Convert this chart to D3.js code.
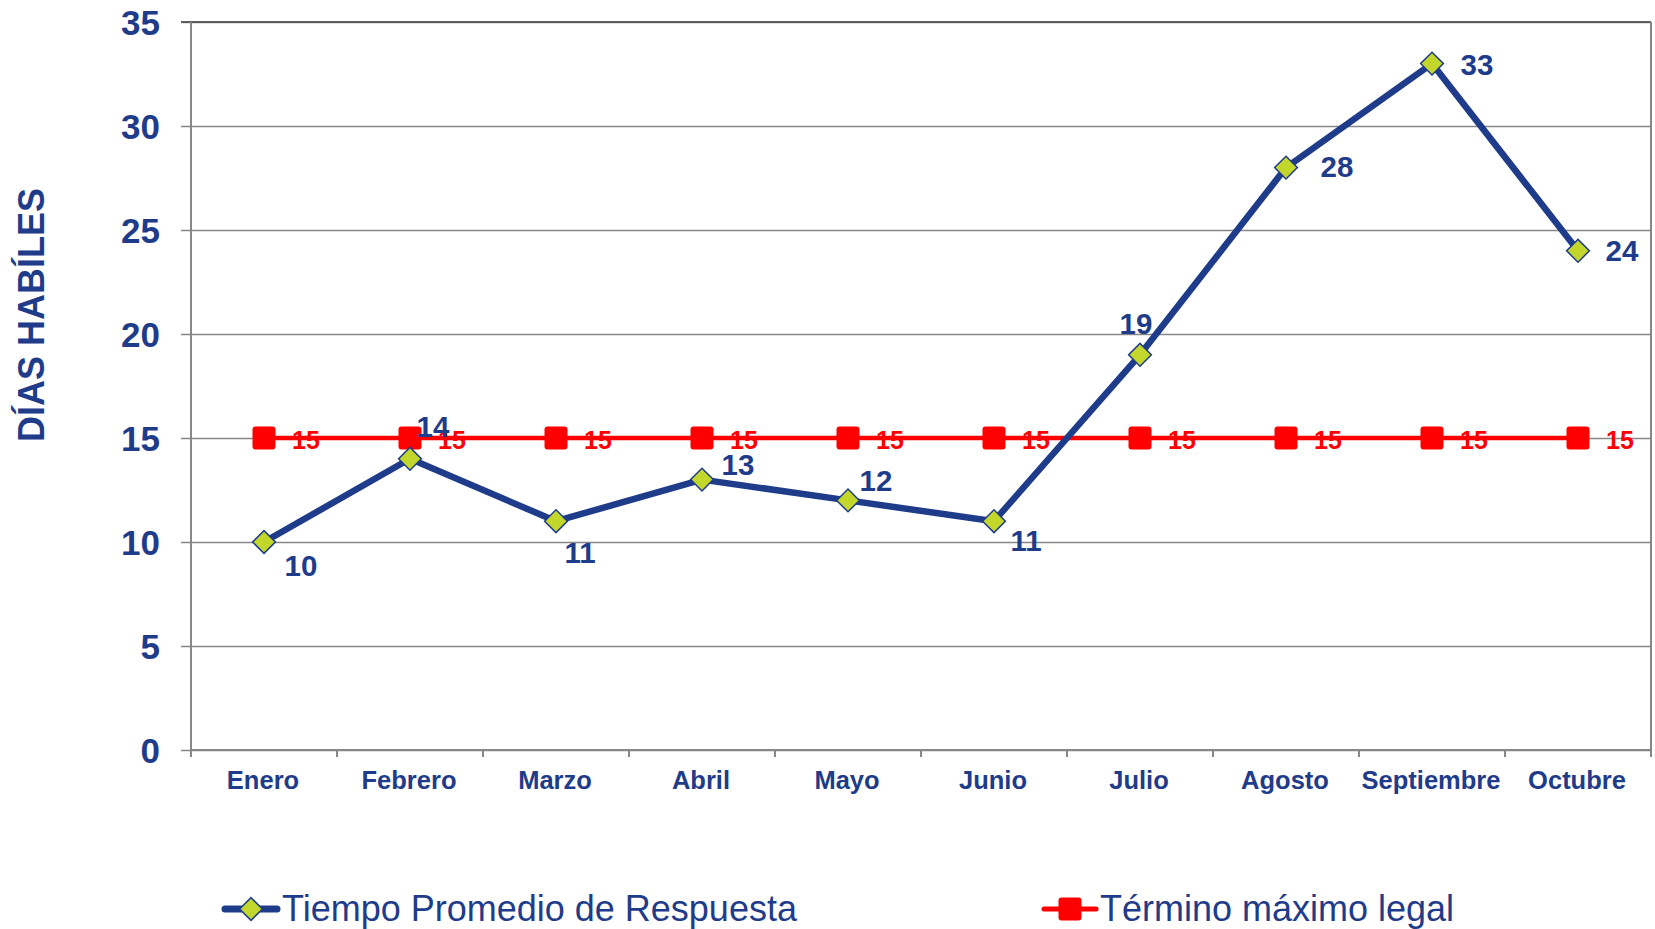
<!DOCTYPE html>
<html>
<head>
<meta charset="utf-8">
<script src="https://cdn.jsdelivr.net/npm/d3@7"></script>
<style>
    body { margin: 0; background: #fff; }
    svg { display: block; font-family: Arial, "Liberation Sans", sans-serif; }
</style>
</head>
<body>
<div id="chart"></div>
<script>
// Chart data
const months = ['Enero', 'Febrero', 'Marzo', 'Abril', 'Mayo', 'Junio', 'Julio', 'Agosto', 'Septiembre', 'Octubre'];
const tiempoPromedio = [10, 14, 11, 13, 12, 11, 19, 28, 33, 24];
const terminoLegal = [15, 15, 15, 15, 15, 15, 15, 15, 15, 15];
const yTicks = [0, 5, 10, 15, 20, 25, 30, 35];
const seriesNames = ['Tiempo Promedio de Respuesta', 'Término máximo legal'];
const yTitle = 'DÍAS HABÍLES';

// Label placement (offset of label centre from its point, px)
const blueLabelOffsets = [[37, 23], [23, -32], [24, 31], [36, -15], [28, -20], [32, 19], [-4, -31], [51, -1], [45, 1], [44, 0]];

const BLUE = '#1f3c8a';
const LIME = '#c3d62b';
const RED = '#ff0000';
const GRID = '#878787';

const width = 1655, height = 929;
const plot = {left: 191, right: 1651, top: 22, bottom: 750};

const svg = d3.select('#chart').append('svg')
    .attr('width', width)
    .attr('height', height);

const x = d3.scaleBand()
    .domain(months)
    .range([plot.left, plot.right])
    .padding(0);
const cx = m => x(m) + x.bandwidth() / 2;

const y = d3.scaleLinear()
    .domain([0, 35])
    .range([plot.bottom, plot.top]);

// Gridlines + left ticks
const yAxis = d3.axisLeft(y)
    .tickValues(yTicks)
    .tickSize(-(plot.right - plot.left))
    .tickFormat('');
svg.append('g')
    .attr('transform', `translate(${plot.left},0)`)
    .call(yAxis)
    .call(g => g.select('.domain').remove())
    .call(g => g.selectAll('.tick line')
        .attr('x1', -10)
        .attr('stroke', GRID)
        .attr('stroke-width', 1.6));

// Top border slightly darker
svg.append('line')
    .attr('x1', plot.left - 10).attr('x2', plot.right)
    .attr('y1', y(35)).attr('y2', y(35))
    .attr('stroke', '#5e5e5e')
    .attr('stroke-width', 2);

// Left and right frame lines
[plot.left, plot.right].forEach(px => {
    svg.append('line')
        .attr('x1', px).attr('x2', px)
        .attr('y1', plot.top).attr('y2', plot.bottom)
        .attr('stroke', GRID)
        .attr('stroke-width', 2);
});

// Y tick labels
svg.append('g')
    .selectAll('text')
    .data(yTicks)
    .enter().append('text')
    .attr('x', 160)
    .attr('y', d => y(d))
    .attr('dy', '0.36em')
    .attr('text-anchor', 'end')
    .style('font-size', '35px')
    .style('font-weight', 'bold')
    .style('fill', BLUE)
    .text(d => d);

// X axis with ticks at category boundaries
const xBottom = svg.append('g')
    .attr('transform', `translate(0,${plot.bottom})`);
xBottom.append('line')
    .attr('x1', plot.left).attr('x2', plot.right)
    .attr('stroke', GRID)
    .attr('stroke-width', 2);
xBottom.selectAll('.xtick')
    .data(months.map(m => x(m)).concat([plot.right]))
    .enter().append('line')
    .attr('class', 'xtick')
    .attr('x1', d => d).attr('x2', d => d)
    .attr('y1', 0).attr('y2', 7)
    .attr('stroke', GRID)
    .attr('stroke-width', 2);
xBottom.selectAll('.xlabel')
    .data(months)
    .enter().append('text')
    .attr('class', 'xlabel')
    .attr('x', d => cx(d) - 1)
    .attr('y', 39)
    .attr('text-anchor', 'middle')
    .style('font-size', '25.5px')
    .style('font-weight', 'bold')
    .style('fill', BLUE)
    .text(d => d);

// Y axis title
svg.append('text')
    .attr('transform', 'translate(31,315) rotate(-90)')
    .attr('dy', '0.36em')
    .attr('text-anchor', 'middle')
    .style('font-size', '36px')
    .style('font-weight', 'bold')
    .style('fill', BLUE)
    .text(yTitle);

const line = d3.line()
    .x((d, i) => cx(months[i]))
    .y(d => y(d));

// Red series: Término máximo legal
svg.append('path')
    .attr('d', line(terminoLegal))
    .attr('fill', 'none')
    .attr('stroke', RED)
    .attr('stroke-width', 4.5);

svg.append('g')
    .selectAll('text')
    .data(terminoLegal)
    .enter().append('text')
    .attr('x', (d, i) => cx(months[i]) + 42)
    .attr('y', d => y(d) + 1.5)
    .attr('dy', '0.36em')
    .attr('text-anchor', 'middle')
    .style('font-size', '25px')
    .style('font-weight', 'bold')
    .style('fill', RED)
    .text(d => d);

svg.append('g')
    .selectAll('rect')
    .data(terminoLegal)
    .enter().append('rect')
    .attr('x', (d, i) => cx(months[i]) - 11.5)
    .attr('y', d => y(d) - 11.5)
    .attr('width', 23)
    .attr('height', 23)
    .attr('rx', 3)
    .attr('fill', RED);

// Blue series: Tiempo Promedio de Respuesta
svg.append('path')
    .attr('d', line(tiempoPromedio))
    .attr('fill', 'none')
    .attr('stroke', BLUE)
    .attr('stroke-width', 6.5)
    .attr('stroke-linejoin', 'round');

const diamond = d3.symbol().type(d3.symbolSquare).size(260);
svg.append('g')
    .selectAll('path')
    .data(tiempoPromedio)
    .enter().append('path')
    .attr('d', diamond)
    .attr('transform', (d, i) => `translate(${cx(months[i])},${y(d)}) rotate(45)`)
    .attr('fill', LIME)
    .attr('stroke', BLUE)
    .attr('stroke-width', 1.5);

svg.append('g')
    .selectAll('text')
    .data(tiempoPromedio)
    .enter().append('text')
    .attr('x', (d, i) => cx(months[i]) + blueLabelOffsets[i][0])
    .attr('y', (d, i) => y(d) + blueLabelOffsets[i][1])
    .attr('dy', '0.36em')
    .attr('text-anchor', 'middle')
    .style('font-size', '29.5px')
    .style('font-weight', 'bold')
    .style('fill', BLUE)
    .text(d => d);

// Legend
const legendY = 909;
const leg1 = svg.append('g').attr('transform', `translate(251,${legendY})`);
leg1.append('line')
    .attr('x1', -26).attr('x2', 26)
    .attr('stroke', BLUE)
    .attr('stroke-width', 7)
    .attr('stroke-linecap', 'round');
leg1.append('path')
    .attr('d', diamond)
    .attr('transform', 'rotate(45)')
    .attr('fill', LIME)
    .attr('stroke', BLUE)
    .attr('stroke-width', 1.5);
leg1.append('text')
    .attr('x', 31)
    .attr('y', 12)
    .style('font-size', '36px')
    .style('fill', BLUE)
    .text(seriesNames[0]);

const leg2 = svg.append('g').attr('transform', `translate(1070,${legendY})`);
leg2.append('line')
    .attr('x1', -26).attr('x2', 26)
    .attr('stroke', RED)
    .attr('stroke-width', 5)
    .attr('stroke-linecap', 'round');
leg2.append('rect')
    .attr('x', -11.5).attr('y', -11.5)
    .attr('width', 23).attr('height', 23)
    .attr('rx', 3)
    .attr('fill', RED);
leg2.append('text')
    .attr('x', 30)
    .attr('y', 12)
    .style('font-size', '36px')
    .style('fill', BLUE)
    .text(seriesNames[1]);
</script>
</body>
</html>
